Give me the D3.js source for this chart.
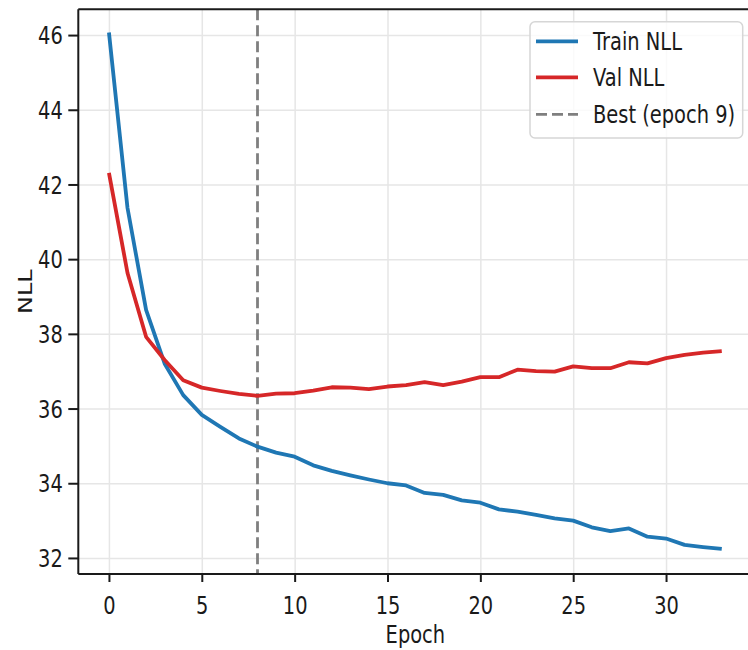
<!DOCTYPE html>
<html>
<head>
<meta charset="utf-8">
<script src="https://cdn.jsdelivr.net/npm/d3@7"></script>
<style>
  html, body { margin: 0; padding: 0; background: #fff; }
  svg { display: block; font-family: "DejaVu Sans", sans-serif; }
</style>
</head>
<body>
<svg id="chart" width="748" height="650"></svg>
<script>
// Per-epoch negative log-likelihood for the training and validation sets
const trainNLL = [46.07, 41.37, 38.64, 37.20, 36.36, 35.83, 35.51, 35.20, 34.98, 34.82,
                  34.71, 34.48, 34.33, 34.21, 34.10, 34.00, 33.94, 33.74, 33.69, 33.54,
                  33.48, 33.30, 33.24, 33.15, 33.06, 33.00, 32.82, 32.72, 32.79, 32.57,
                  32.52, 32.35, 32.29, 32.24];
const valNLL = [42.31, 39.63, 37.92, 37.30, 36.76, 36.56, 36.47, 36.39, 36.34, 36.40,
                36.41, 36.48, 36.57, 36.56, 36.52, 36.59, 36.63, 36.71, 36.63, 36.72,
                36.84, 36.84, 37.04, 37.00, 36.99, 37.13, 37.08, 37.08, 37.24, 37.21,
                37.35, 37.44, 37.50, 37.54];
const bestEpoch = 8;           // zero-based index of the lowest validation loss
const bestLabel = "Best (epoch 9)";
const xTicks = [0, 5, 10, 15, 20, 25, 30];
const yTicks = [32, 34, 36, 38, 40, 42, 44, 46];
const seriesNames = ["Train NLL", "Val NLL"];

const COLORS = { train: "#1f77b4", val: "#d62728", best: "#7f7f7f", grid: "#e6e6e6", axis: "#1a1a1a" };
const FONT = 24;
const SQUEEZE = 0.81;   // horizontal text compression
const BASE = 8.7;       // baseline offset that vertically centres digits

const svg = d3.select("#chart");
const plot = { left: 78.3, top: 9.3, right: 752.4, bottom: 574 };

const x = d3.scaleLinear().domain([-1.65, 34.65]).range([plot.left, plot.right]);
const y = d3.scaleLinear().domain([31.57, 46.69]).range([plot.bottom, plot.top]);

// grid
const grid = svg.append("g");
grid.append("g")
  .attr("transform", `translate(0,${plot.bottom})`)
  .call(d3.axisBottom(x).tickValues(xTicks).tickSize(-(plot.bottom - plot.top)).tickFormat(""))
  .call(g => g.select(".domain").remove())
  .selectAll("line").attr("stroke", COLORS.grid).attr("stroke-width", 1.5);
grid.append("g")
  .attr("transform", `translate(${plot.left},0)`)
  .call(d3.axisLeft(y).tickValues(yTicks).tickSize(-(plot.right - plot.left)).tickFormat(""))
  .call(g => g.select(".domain").remove())
  .selectAll("line").attr("stroke", COLORS.grid).attr("stroke-width", 1.5);

// best-epoch marker
svg.append("line")
  .attr("x1", x(bestEpoch)).attr("x2", x(bestEpoch))
  .attr("y1", plot.top).attr("y2", plot.bottom)
  .attr("stroke", COLORS.best).attr("stroke-width", 2.8)
  .attr("stroke-dasharray", "11,5");

// series
const line = d3.line().x((d, i) => x(i)).y(d => y(d));
svg.append("path").datum(trainNLL).attr("d", line)
  .attr("fill", "none").attr("stroke", COLORS.train).attr("stroke-width", 3.8)
  .attr("stroke-linejoin", "round").attr("stroke-linecap", "butt");
svg.append("path").datum(valNLL).attr("d", line)
  .attr("fill", "none").attr("stroke", COLORS.val).attr("stroke-width", 3.8)
  .attr("stroke-linejoin", "round").attr("stroke-linecap", "butt");

// axes
const xAxis = svg.append("g")
  .attr("transform", `translate(0,${plot.bottom})`)
  .call(d3.axisBottom(x).tickValues(xTicks).tickSize(8).tickSizeOuter(0));
xAxis.select(".domain").attr("stroke", COLORS.axis).attr("stroke-width", 2).attr("d", `M${plot.left},0H${plot.right}`);
xAxis.selectAll(".tick line").attr("stroke", COLORS.axis).attr("stroke-width", 2);
xAxis.selectAll(".tick text")
  .attr("x", 0).attr("y", 0).attr("dy", null)
  .attr("transform", `translate(0,40) scale(${SQUEEZE},1)`)
  .attr("font-size", FONT).attr("font-family", "DejaVu Sans").attr("fill", "#1a1a1a");

const yAxis = svg.append("g")
  .attr("transform", `translate(${plot.left},0)`)
  .call(d3.axisLeft(y).tickValues(yTicks).tickSize(10).tickSizeOuter(0));
yAxis.select(".domain").attr("stroke", COLORS.axis).attr("stroke-width", 2).attr("d", `M0,${plot.bottom}V${plot.top}`);
yAxis.selectAll(".tick line").attr("stroke", COLORS.axis).attr("stroke-width", 2);
yAxis.selectAll(".tick text")
  .attr("x", 0).attr("dy", null).attr("y", 0)
  .attr("transform", `translate(-15.5,${BASE}) scale(${SQUEEZE},1)`)
  .attr("font-size", FONT).attr("font-family", "DejaVu Sans").attr("fill", "#1a1a1a");

// top spine
svg.append("line")
  .attr("x1", plot.left).attr("x2", plot.right)
  .attr("y1", plot.top).attr("y2", plot.top)
  .attr("stroke", COLORS.axis).attr("stroke-width", 2);

// axis titles
svg.append("text")
  .attr("transform", `translate(${(plot.left + plot.right) / 2},643) scale(${SQUEEZE},1)`)
  .attr("text-anchor", "middle").attr("font-size", FONT).attr("fill", "#1a1a1a")
  .text("Epoch");
svg.append("text")
  .attr("transform", `translate(32,${(plot.top + plot.bottom) / 2}) scale(${SQUEEZE},1) rotate(-90)`)
  .attr("text-anchor", "middle").attr("font-size", FONT).attr("fill", "#1a1a1a")
  .text("NLL");

// legend
const legend = svg.append("g");
legend.append("rect")
  .attr("x", 530).attr("y", 21.7).attr("width", 212.7).attr("height", 116.3)
  .attr("rx", 5).attr("ry", 5)
  .attr("fill", "#fff").attr("fill-opacity", 0.8)
  .attr("stroke", "#d6d6d6").attr("stroke-width", 1.5);
const legendItems = [
  { label: seriesNames[0], color: COLORS.train, dash: null, width: 3.8, cy: 41.3 },
  { label: seriesNames[1], color: COLORS.val, dash: null, width: 3.8, cy: 77.3 },
  { label: bestLabel, color: COLORS.best, dash: "11,5", width: 2.8, cy: 114.3 }
];
legendItems.forEach(item => {
  legend.append("line")
    .attr("x1", 536).attr("x2", 578).attr("y1", item.cy).attr("y2", item.cy)
    .attr("stroke", item.color).attr("stroke-width", item.width)
    .attr("stroke-dasharray", item.dash);
  legend.append("text")
    .attr("transform", `translate(593,${item.cy + BASE}) scale(${SQUEEZE},1)`)
    .attr("font-size", FONT).attr("fill", "#1a1a1a")
    .text(item.label);
});
</script>
</body>
</html>
